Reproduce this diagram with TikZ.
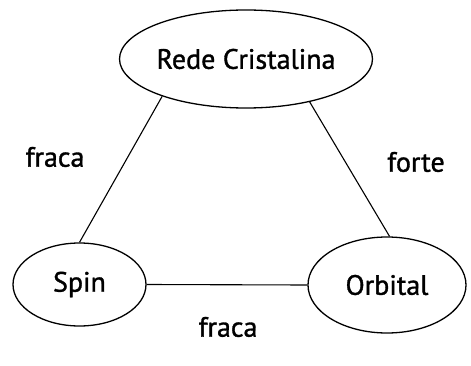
\documentclass[tikz,border=0pt]{standalone}
\usepackage{fontspec}
\setmainfont[FakeBold=1.2]{PT Sans}
\usetikzlibrary{shapes.geometric}
\begin{document}
\begin{tikzpicture}[x=1pt,y=1pt,
  conc/.style={ellipse,draw,line width=1.3pt,inner sep=0pt,font=\fontsize{28}{32}\selectfont},
  link/.style={line width=1.1pt},
  lbl/.style={font=\fontsize{28}{32}\selectfont,inner sep=0pt}]
\useasboundingbox (0,0) rectangle (471,365);
\node[conc,minimum width=248,minimum height=98] (rede) at (246,306) {Rede Cristalina};
\node[conc,minimum width=133,minimum height=83] (spin) at (79.5,80.5) {Spin};
\node[conc,minimum width=158,minimum height=96] (orb) at (387,80) {Orbital};
\draw[link] (rede.204) -- (spin.90);
\draw[link] (rede.-34) -- (orb.87);
\draw[link] (spin.east) -- (orb.west);
\node[lbl] (l1) at (55,208) {fraca};
\node[lbl] (l2) at (416,203) {forte};
\node[lbl] (l3) at (228,38) {fraca};
\end{tikzpicture}
\end{document}
